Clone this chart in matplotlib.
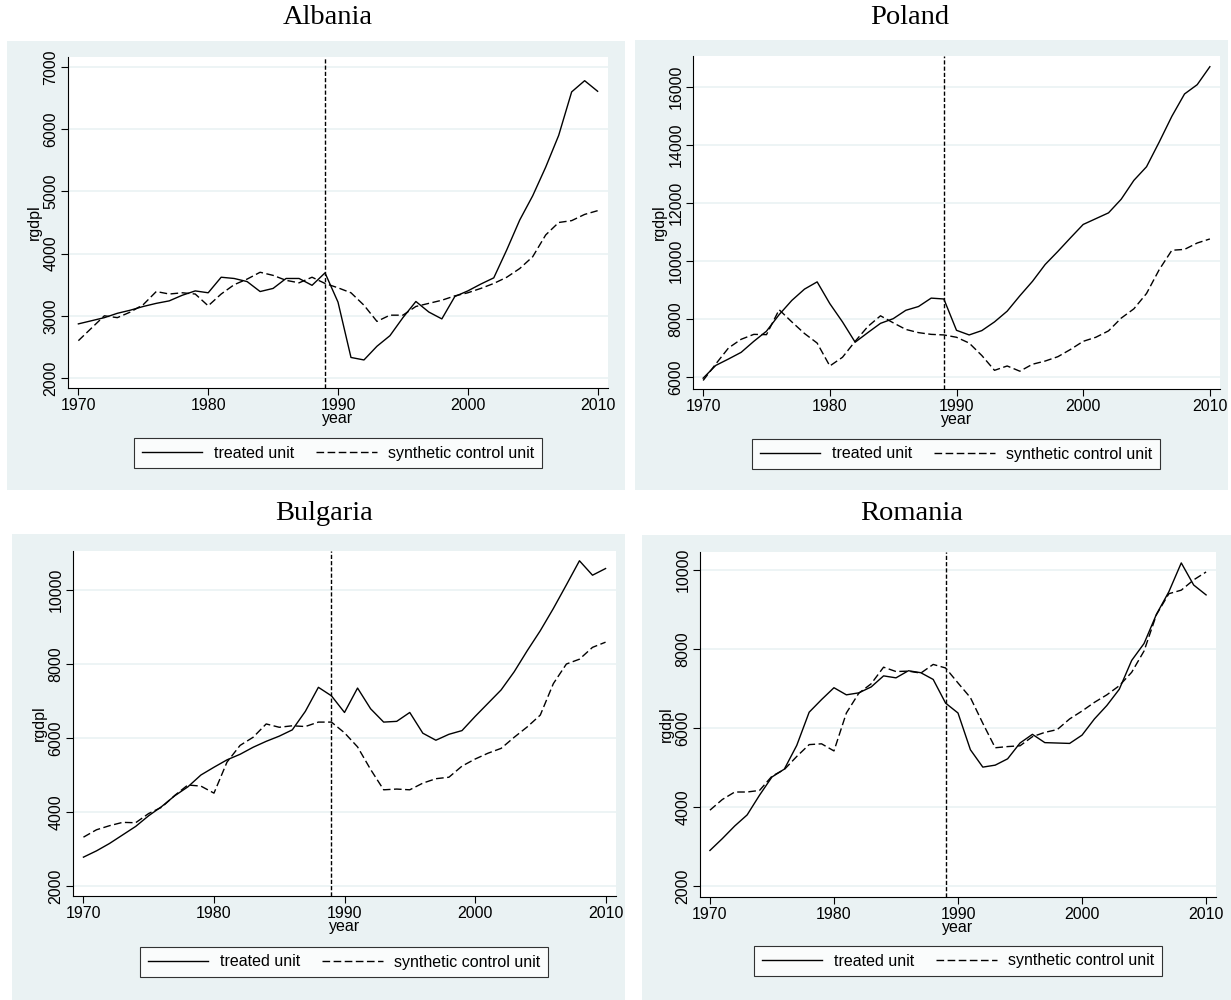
import matplotlib
matplotlib.use('Agg')
import matplotlib.pyplot as plt
from matplotlib.patches import Rectangle

W, H = 1231, 1000

years = list(range(1970, 2011))

albania_treated = [2870, 2920, 2970, 3040, 3090, 3150, 3200, 3240, 3330, 3400,
                   3370, 3620, 3600, 3550, 3390, 3440, 3600, 3600, 3490, 3690,
                   3220, 2330, 2290, 2510, 2680, 2970, 3230, 3060, 2950, 3310,
                   3400, 3510, 3610, 4060, 4540, 4930, 5390, 5900, 6600, 6780, 6610]
albania_synth = [2600, 2800, 3000, 2970, 3060, 3180, 3390, 3350, 3370, 3350,
                 3160, 3350, 3500, 3590, 3700, 3650, 3570, 3530, 3620, 3520,
                 3450, 3370, 3170, 2910, 3010, 3010, 3150, 3200, 3250, 3320,
                 3370, 3440, 3520, 3620, 3760, 3950, 4300, 4500, 4530, 4630, 4690]

poland_treated = [5960, 6400, 6620, 6850, 7230, 7580, 8150, 8640, 9030, 9280,
                  8530, 7900, 7200, 7530, 7850, 8010, 8300, 8430, 8720, 8690,
                  7610, 7450, 7600, 7900, 8270, 8800, 9300, 9880, 10330, 10800,
                  11260, 11460, 11660, 12130, 12780, 13250, 14100, 14990, 15760, 16080, 16700]
poland_synth = [5880, 6450, 7000, 7300, 7470, 7460, 8320, 7900, 7500, 7170,
                6380, 6680, 7230, 7740, 8110, 7870, 7640, 7530, 7470, 7450,
                7370, 7170, 6740, 6230, 6380, 6200, 6440, 6550, 6700, 6950,
                7230, 7370, 7590, 8030, 8350, 8880, 9700, 10370, 10400, 10620, 10760]

bulgaria_treated = [2780, 2950, 3150, 3380, 3610, 3900, 4150, 4440, 4680, 5000,
                    5210, 5410, 5560, 5750, 5910, 6050, 6220, 6720, 7370, 7140,
                    6690, 7350, 6790, 6430, 6450, 6690, 6130, 5940, 6100, 6200,
                    6580, 6940, 7300, 7790, 8360, 8900, 9500, 10140, 10790, 10400, 10580]
bulgaria_synth = [3320, 3520, 3630, 3720, 3710, 3960, 4130, 4450, 4730, 4700,
                  4510, 5350, 5800, 6020, 6380, 6290, 6330, 6310, 6430, 6430,
                  6140, 5760, 5150, 4600, 4620, 4600, 4780, 4900, 4940, 5240,
                  5430, 5590, 5720, 6020, 6300, 6620, 7470, 8000, 8130, 8450, 8590]

romania_treated = [2900, 3200, 3520, 3800, 4300, 4760, 4960, 5560, 6400, 6720,
                   7020, 6840, 6890, 7040, 7320, 7270, 7450, 7400, 7230, 6630,
                   6380, 5450, 5010, 5060, 5220, 5620, 5840, 5630, 5620, 5610,
                   5820, 6230, 6570, 6980, 7710, 8140, 8880, 9450, 10180, 9620, 9370]
romania_synth = [3920, 4190, 4380, 4380, 4420, 4780, 4950, 5280, 5580, 5600,
                 5420, 6380, 6880, 7120, 7540, 7430, 7440, 7390, 7610, 7520,
                 7140, 6770, 6120, 5500, 5530, 5550, 5780, 5890, 5960, 6230,
                 6430, 6650, 6840, 7070, 7410, 7950, 8870, 9400, 9490, 9750, 9950]

countries = ['Albania', 'Poland', 'Bulgaria', 'Romania']
treated = [albania_treated, poland_treated, bulgaria_treated, romania_treated]
synth = [albania_synth, poland_synth, bulgaria_synth, romania_synth]
yticks = [range(2000, 7001, 1000), range(6000, 16001, 2000),
          range(2000, 10001, 2000), range(2000, 10001, 2000)]
treat_year = 1989

# layout in pixels: background box, axes box, y limits, title pos, legend centre
bg_boxes = [(7, 41, 625, 490), (635, 40, 1228, 490),
            (12, 534, 625, 1000), (642, 535, 1231, 1000)]
ax_boxes = [(68, 57, 608, 388), (693, 56, 1220, 389),
            (73, 551, 616, 896), (700, 552, 1216, 897)]
ylims = [(1839, 7161), (5586, 17069), (1730, 11054), (1722, 10456)]
title_pos = [(328, 18), (910, 18), (324, 513), (912, 513)]
legend_pos = [(338, 453), (956, 454), (344, 962), (958, 961)]

bgcol = '#eaf2f3'
fs = 11.5

fig = plt.figure(figsize=(W / 100, H / 100), dpi=100)
plt.rcParams['font.family'] = ['Liberation Sans', 'DejaVu Sans']


def frac(x0, y0, x1, y1):
    return [x0 / W, 1 - y1 / H, (x1 - x0) / W, (y1 - y0) / H]


for i in range(4):
    x0, y0, x1, y1 = bg_boxes[i]
    fig.add_artist(Rectangle((x0 / W, 1 - y1 / H), (x1 - x0) / W, (y1 - y0) / H,
                             transform=fig.transFigure, facecolor=bgcol,
                             edgecolor='none', zorder=0))

    ax = fig.add_axes(frac(*ax_boxes[i]))
    ax.set_facecolor('white')
    ax.plot(years, treated[i], color='black', lw=1.0, label='treated unit')
    ax.plot(years, synth[i], color='black', lw=1.0, dashes=(5.5, 2.5),
            label='synthetic control unit')
    ax.axvline(treat_year, color='black', lw=1.0, dashes=(3, 1.5))

    ax.set_xlim(1969.2, 2010.8)
    ax.set_ylim(*ylims[i])
    ax.set_xticks(range(1970, 2011, 10))
    ax.set_yticks(list(yticks[i]))
    ax.grid(axis='y', color=bgcol, lw=1.2)
    ax.set_axisbelow(True)
    for s in ['top', 'right']:
        ax.spines[s].set_visible(False)
    for s in ['left', 'bottom']:
        ax.spines[s].set_color('black')
        ax.spines[s].set_linewidth(0.8)
    ax.tick_params(length=5, width=0.8, labelsize=fs, pad=2)
    for lab in ax.get_yticklabels():
        lab.set_rotation(90)
        lab.set_va('center')
    ax.set_xlabel('year', fontsize=fs, labelpad=-1)
    ax.set_ylabel('rgdpl', fontsize=fs, labelpad=1)

    tx, ty = title_pos[i]
    fig.text(tx / W, 1 - ty / H, countries[i], ha='center', va='center',
             fontsize=20.5, family='Liberation Serif')

    lx, ly = legend_pos[i]
    leg = ax.legend(loc='center', bbox_to_anchor=(lx / W, 1 - ly / H),
                    bbox_transform=fig.transFigure, ncol=2, fontsize=fs,
                    frameon=True, fancybox=False, edgecolor='black',
                    handlelength=3.8, handletextpad=0.7, columnspacing=1.4,
                    borderpad=0.5)
    leg.get_frame().set_linewidth(0.8)

fig.savefig('out.png', dpi=100, facecolor='white')
